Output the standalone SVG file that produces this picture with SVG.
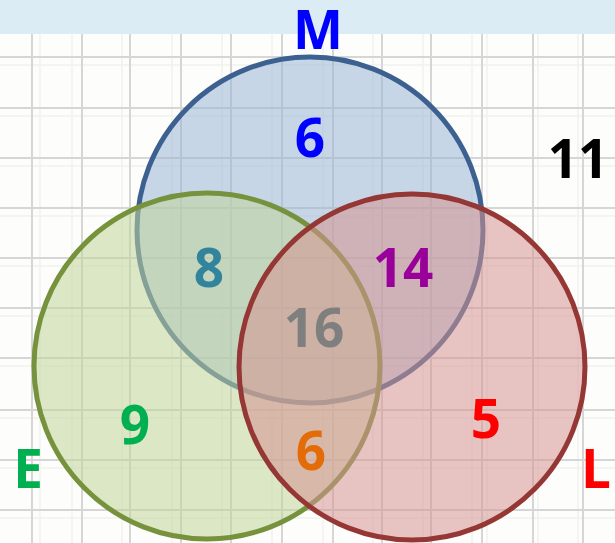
<svg xmlns="http://www.w3.org/2000/svg" width="615" height="543" viewBox="0 0 615 543">
<style>
.g{stroke:#d6d6d6;stroke-width:2;fill:none}
.m{stroke:#f1f1f0;stroke-width:1.5;fill:none}
.c{stroke-width:5}
text{font-family:"Open Sans","Liberation Sans",sans-serif;font-weight:bold;font-size:53px;text-anchor:middle}
</style>
<rect width="615" height="543" fill="#fdfdfb"/>
<g id="grid">
<path class="m" d="M40 34V543M72 34V543M122 34V543M172 34V543M222 34V543M272 34V543M323 34V543M373 34V543M423 34V543M472 34V543M487 34V543M538 34V543M578 34V543"/>
<path class="m" d="M0 65H615M0 116H615M0 166H615M0 216H615M0 266H615M0 316H615M0 366H615M0 418H615M0 468H615M0 518H615"/>
<path class="g" d="M32 34V543M82 34V543M130 34V543M181 34V543M231 34V543M282 34V543M333 34V543M382 34V543M431 34V543M482 34V543M533 34V543M583 34V543"/>
<path class="g" d="M0 57H615M0 108H615M0 158H615M0 208H615M0 258H615M0 308H615M0 358H615M0 410H615M0 460H615M0 510H615"/>
</g>
<rect width="615" height="34" fill="#dbecf5"/>
<g id="M"><circle class="c" cx="310" cy="230" r="173" fill="#9bb6d5" fill-opacity="0.55" stroke="#3c6190"/></g>
<g id="E"><circle class="c" cx="207" cy="366" r="173" fill="#c1d59b" fill-opacity="0.55" stroke="#76923c"/></g>
<g id="L"><circle class="c" cx="412" cy="367" r="173" fill="#d59492" fill-opacity="0.55" stroke="#953735"/></g>
<g id="labels">
<text x="318" y="49" fill="#0000ff">M</text>
<text x="310" y="157" fill="#0000ff">6</text>
<text x="578" y="178" fill="#000">11</text>
<text x="209" y="287" fill="#31849b">8</text>
<text x="403" y="287" fill="#990099">14</text>
<text x="314" y="347" fill="#7f7f7f">16</text>
<text x="135" y="444" fill="#00b050">9</text>
<text x="311" y="470" fill="#e36c09">6</text>
<text x="486" y="438" fill="#ff0000">5</text>
<text x="28" y="488" fill="#00b050">E</text>
<text x="596" y="488" fill="#ff0000">L</text>
</g>
</svg>
